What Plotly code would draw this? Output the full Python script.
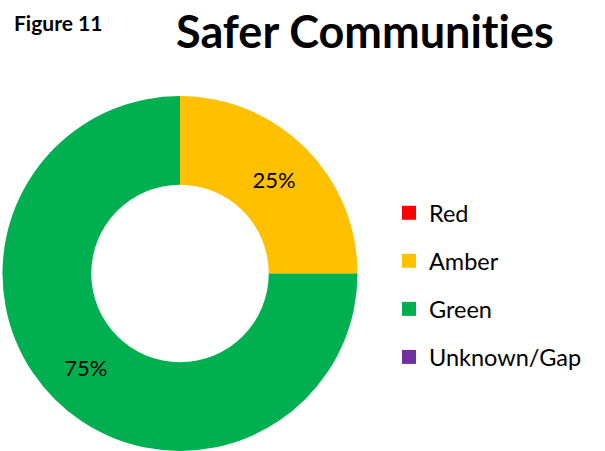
import plotly.graph_objects as go

# RAG status breakdown for the Safer Communities measures
categories = ["Red", "Amber", "Green", "Unknown/Gap"]
values = [0, 25, 75, 0]
colors = ["#FF0000", "#FFC000", "#00B050", "#7030A0"]

FONT = "Lato, Carlito, Calibri, sans-serif"
W, H = 605, 451

fig = go.Figure()

fig.add_trace(go.Pie(
    labels=categories,
    values=values,
    marker=dict(colors=colors, line=dict(width=0)),
    hole=0.5,
    sort=False,
    direction="clockwise",
    rotation=0,
    textinfo="percent",
    textposition="inside",
    insidetextorientation="horizontal",
    textfont=dict(family=FONT, size=22, color="black"),
    showlegend=False,
    hoverinfo="label+percent",
    domain=dict(x=[2 / W, 358 / W], y=[0, 355 / H]),
))

# Legend entries, one group per category so the rows can be spaced out
for name, col in zip(categories, colors):
    fig.add_trace(go.Scatter(
        x=[None], y=[None], mode="markers", name=name,
        legendgroup=name,
        marker=dict(symbol="square", size=14, color=col),
    ))

# zero-width non-joiner keeps the "t" and "i" as separate glyphs
title_text = "Safer Communit\u200cies"

fig.update_layout(
    width=W, height=H,
    margin=dict(l=0, r=0, t=0, b=0),
    paper_bgcolor="white",
    plot_bgcolor="white",
    xaxis=dict(visible=False),
    yaxis=dict(visible=False),
    showlegend=True,
    legend=dict(
        x=389 / W, y=1 - 191 / H, xanchor="left", yanchor="top",
        font=dict(family=FONT, size=23.5, color="black"),
        tracegroupgap=14.5,
        bgcolor="rgba(0,0,0,0)",
    ),
    annotations=[
        dict(text="<b>" + title_text + "</b>", x=365 / W, y=1 - 31 / H,
             xref="paper", yref="paper", showarrow=False,
             xanchor="center", yanchor="middle",
             font=dict(family=FONT, size=45, color="black")),
        dict(text="<b>Figure 11</b>", x=12 / W, y=1 - 22 / H,
             xref="paper", yref="paper", showarrow=False,
             xanchor="left", yanchor="middle",
             font=dict(family=FONT, size=21, color="black")),
    ],
)

fig.write_html("out.html")
